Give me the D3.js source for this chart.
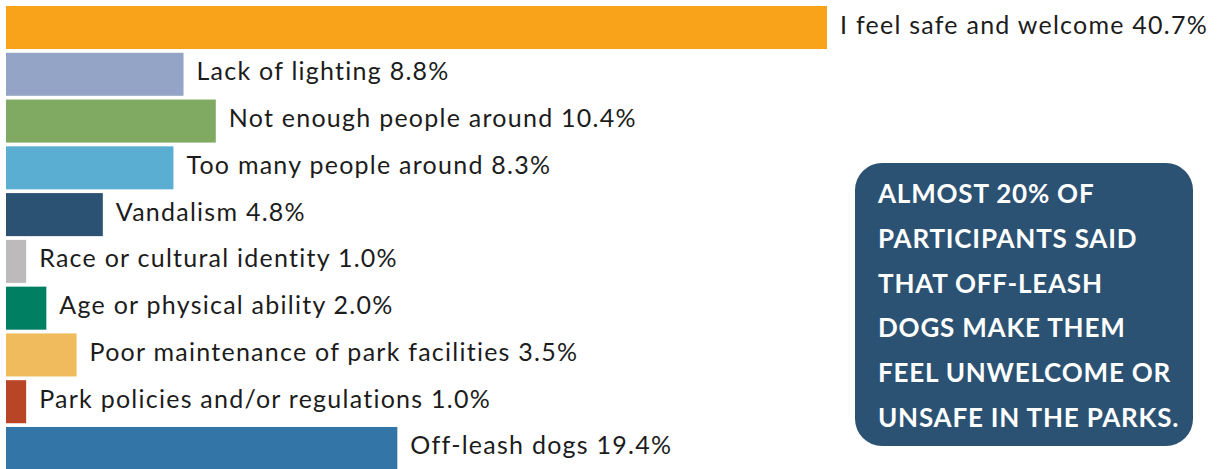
<!DOCTYPE html>
<html>
<head>
<meta charset="utf-8">
<script src="https://cdn.jsdelivr.net/npm/d3@7"></script>
<style>
  html, body { margin: 0; padding: 0; background: #fff; }
  svg { display: block; }
</style>
</head>
<body>
<svg id="chart" width="1218" height="469"></svg>
<script>
// Survey responses: what affects how safe/welcome people feel in the parks
const categories = [
  "I feel safe and welcome",
  "Lack of lighting",
  "Not enough people around",
  "Too many people around",
  "Vandalism",
  "Race or cultural identity",
  "Age or physical ability",
  "Poor maintenance of park facilities",
  "Park policies and/or regulations",
  "Off-leash dogs"
];
const percents = [40.7, 8.8, 10.4, 8.3, 4.8, 1.0, 2.0, 3.5, 1.0, 19.4];
const barColors = [
  "#F9A31B", "#93A4C6", "#80AA61", "#5AAED2", "#2B5273",
  "#BCBABB", "#007F62", "#EFBB5C", "#B94527", "#3475A8"
];
const calloutLines = [
  "ALMOST 20% OF",
  "PARTICIPANTS SAID",
  "THAT OFF-LEASH",
  "DOGS MAKE THEM",
  "FEEL UNWELCOME OR",
  "UNSAFE IN THE PARKS."
];

const svg = d3.select("#chart");

const x = d3.scaleLinear().domain([0, 40.7]).range([6, 827]);
const y = d3.scaleBand().domain(categories).range([6, 470]).paddingInner(0.08).paddingOuter(0);

const rows = categories.map((c, i) => ({ cat: c, value: percents[i], color: barColors[i] }));

svg.append("g").selectAll("rect")
  .data(rows)
  .join("rect")
  .attr("x", x(0))
  .attr("y", d => y(d.cat))
  .attr("width", d => x(d.value) - x(0))
  .attr("height", y.bandwidth())
  .attr("fill", d => d.color);

svg.append("g").selectAll("text")
  .data(rows)
  .join("text")
  .attr("x", d => x(d.value) + 13)
  .attr("y", d => y(d.cat) + y.bandwidth() / 2)
  .attr("dy", "0.24em")
  .attr("font-family", "Lato, 'Open Sans', sans-serif")
  .attr("font-size", 25)
  .attr("letter-spacing", "1.25px")
  .attr("fill", "#1c1c1c")
  .text(d => `${d.cat} ${d.value.toFixed(1)}%`);

// Callout box
const box = { x: 855, y: 163, w: 338, h: 283 };
svg.append("rect")
  .attr("x", box.x).attr("y", box.y)
  .attr("width", box.w).attr("height", box.h)
  .attr("rx", 27).attr("ry", 27)
  .attr("fill", "#2B5273");

svg.append("g").selectAll("text")
  .data(calloutLines)
  .join("text")
  .attr("x", 878)
  .attr("y", (d, i) => 203 + i * 44.8)
  .attr("font-family", "Lato, 'Open Sans', sans-serif")
  .attr("font-weight", 700)
  .attr("font-size", 26)
  .attr("letter-spacing", "0.8px")
  .attr("fill", "#ffffff")
  .text(d => d);
</script>
</body>
</html>
